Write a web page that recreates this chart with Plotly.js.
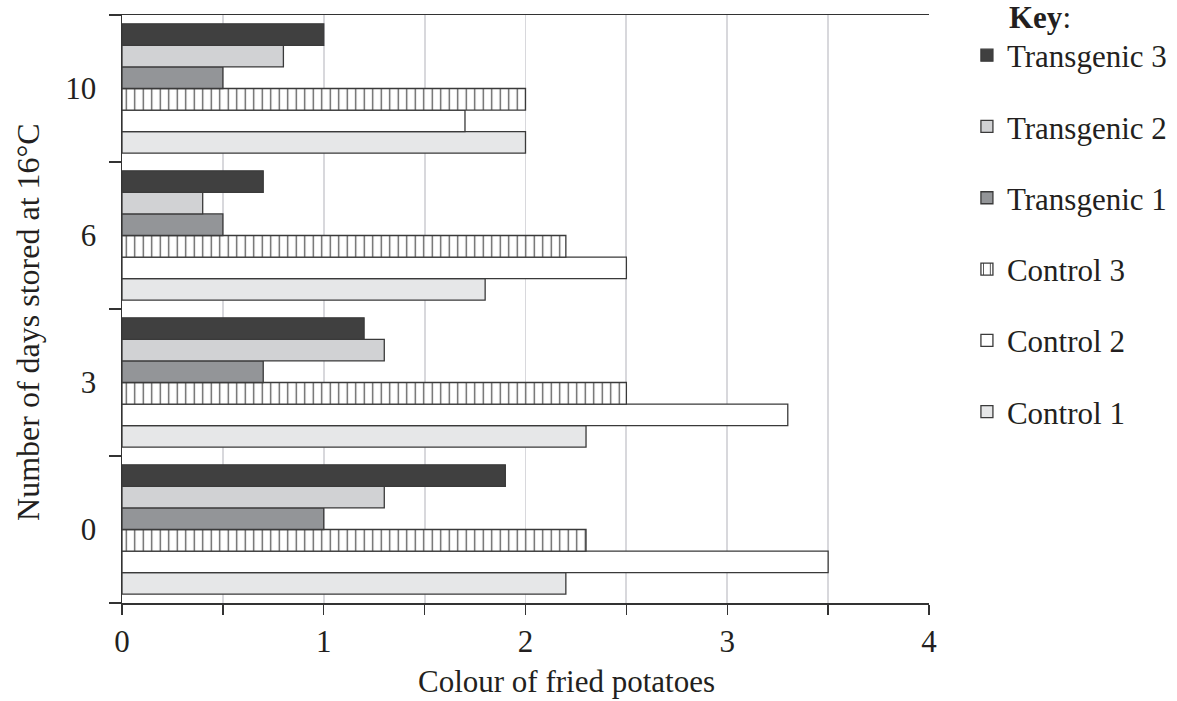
<!DOCTYPE html>
<html>
<head>
<meta charset="utf-8">
<script src="https://cdn.plot.ly/plotly-3.0.1.min.js"></script>
<style>html,body{margin:0;padding:0;background:#fff;}#chart{width:1177px;height:701px;}</style>
</head>
<body>
<div id="chart"></div>
<script>
const days = ['0', '3', '6', '10'];
const control1 = [2.2, 2.3, 1.8, 2.0];
const control2 = [3.5, 3.3, 2.5, 1.7];
const control3 = [2.3, 2.5, 2.2, 2.0];
const transgenic1 = [1.0, 0.7, 0.5, 0.5];
const transgenic2 = [1.3, 1.3, 0.4, 0.8];
const transgenic3 = [1.9, 1.2, 0.7, 1.0];
const xTickVals = [0, 0.5, 1, 1.5, 2, 2.5, 3, 3.5, 4];
const xTickText = ['0', '', '1', '', '2', '', '3', '', '4'];

const FONT = 'Liberation Serif, Times New Roman, serif';
const outline = {color: '#3a3a3a', width: 1.3};

function bar(name, vals, color, rank, pattern) {
  const m = {color: color, line: outline};
  if (pattern) m.pattern = pattern;
  return {type: 'bar', orientation: 'h', name: name, x: vals, y: days,
          marker: m, legendgroup: name, legendrank: rank, hoverinfo: 'x+name'};
}

const data = [
  bar('Control 1', control1, '#e6e7e8', 6),
  bar('Control 2', control2, '#ffffff', 5),
  bar('Control 3', control3, '#ffffff', 4, {shape: '|', fgcolor: '#555555', bgcolor: '#ffffff', size: 8.5, solidity: 0.15}),
  bar('Transgenic 1', transgenic1, '#939598', 3),
  bar('Transgenic 2', transgenic2, '#d1d2d4', 2),
  bar('Transgenic 3', transgenic3, '#404040', 1)
];

const layout = {
  width: 1177, height: 701,
  paper_bgcolor: '#ffffff', plot_bgcolor: '#ffffff',
  margin: {l: 122, r: 248, t: 15, b: 98, pad: 0, autoexpand: false},
  font: {family: FONT, size: 31, color: '#231f20'},
  barmode: 'group', bargap: 0.12, bargroupgap: 0,
  showlegend: true,
  legend: {x: 1.047, xanchor: 'left', y: 0.977, yanchor: 'top',
           traceorder: 'grouped', tracegroupgap: 28,
           font: {family: FONT, size: 31, color: '#231f20'},
           bgcolor: 'rgba(0,0,0,0)', itemwidth: 30},
  xaxis: {range: [0, 4], tickvals: xTickVals, ticktext: xTickText, automargin: false,
          ticks: 'outside', ticklen: 10, tickwidth: 1.3, tickcolor: '#333',
          showline: true, linecolor: '#333', linewidth: 1.5, mirror: true,
          showgrid: true, gridcolor: '#d8d8dc', gridwidth: 1.8, zeroline: false,
          tickfont: {family: FONT, size: 31, color: '#231f20'}, fixedrange: true},
  yaxis: {type: 'category', categoryorder: 'array', categoryarray: days, automargin: false,
          tickson: 'boundaries', ticks: 'outside', ticklen: 12, tickwidth: 1.3, tickcolor: '#333',
          showline: true, linecolor: '#333', linewidth: 1.5, showgrid: false, zeroline: false,
          ticklabelstandoff: 18,
          tickfont: {family: FONT, size: 31, color: '#231f20'}, fixedrange: true},
  annotations: [
    {text: '<b>Key</b>:', xref: 'paper', yref: 'paper', x: 1.0967, y: 0.995,
     xanchor: 'left', yanchor: 'middle', showarrow: false,
     font: {family: FONT, size: 31, color: '#231f20'}},
    {text: 'Colour of fried potatoes', xref: 'paper', yref: 'paper', x: 0.5514, y: -0.134,
     xanchor: 'center', yanchor: 'middle', showarrow: false,
     font: {family: FONT, size: 31, color: '#231f20'}},
    {text: 'Number of days stored at 16°C', xref: 'paper', yref: 'paper', x: -0.1165, y: 0.478,
     xanchor: 'center', yanchor: 'middle', textangle: -90, showarrow: false,
     font: {family: FONT, size: 32, color: '#231f20'}}
  ]
};

Plotly.newPlot('chart', data, layout, {displayModeBar: false, staticPlot: true});
</script>
</body>
</html>
